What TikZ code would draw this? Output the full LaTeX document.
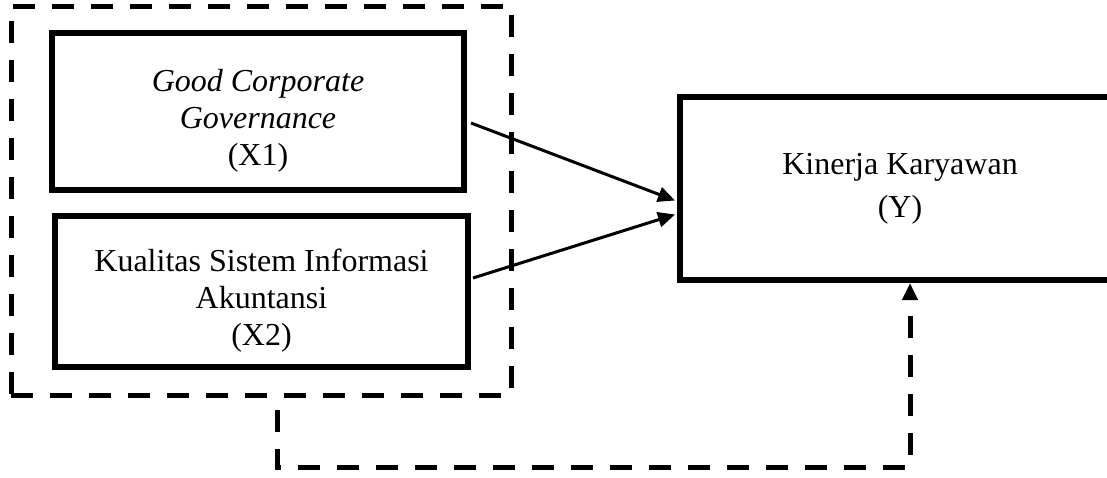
\documentclass[tikz,border=0pt]{standalone}
\usepackage{fontspec}
\setmainfont{Liberation Serif}
\usetikzlibrary{arrows.meta, positioning, calc}

\begin{document}
\begin{tikzpicture}[
  x=0.5pt, y=-0.5pt,
  font=\fontsize{16}{18.5}\selectfont,
  % Node styles
  varbox/.style  = {rectangle, draw=black, line width=3pt,
                    align=center, inner sep=2pt},
  groupbox/.style = {rectangle, draw=black, line width=2.5pt,
                    dash pattern=on 11pt off 8.5pt,
                    minimum width=250pt, minimum height=194.5pt, inner sep=0pt},
  % Arrow styles
  effect/.style  = {-{Triangle[length=8.5pt, width=7.5pt]}, line width=1.5pt},
  joint/.style   = {-{Triangle[length=8.5pt, width=7.5pt]}, line width=2.5pt,
                    dash pattern=on 11pt off 8.5pt}
]
\useasboundingbox (0,0) rectangle (1107,477);

% =========================== INDEPENDENT VARIABLES ===========================
\node[groupbox] (Grp) at (261, 200.5) {};
\node[varbox, minimum width=206pt, minimum height=78.5pt]
            (X1)  at (258, 111.5) {\rule{0pt}{20pt}\textit{Good Corporate}\\\textit{Governance}\\(X1)};
\node[varbox, minimum width=206.5pt, minimum height=75.5pt]
            (X2)  at (261.5, 291.5) {\rule{0pt}{20pt}Kualitas Sistem Informasi\\Akuntansi\\(X2)};

% =========================== DEPENDENT VARIABLE ===========================
% right edge lies past the page border
\node[varbox, minimum width=220pt, minimum height=91.5pt,
      font=\fontsize{16}{21.5}\selectfont]
            (Y)   at (900, 188.5) {Kinerja Karyawan\\(Y)};

% partial effects
\draw[effect] ($(X1.east)+(4,11.5)$)  -- ($(Y.west)+(-2,12)$);
\draw[effect] ($(X2.east)+(2,-13.5)$) -- ($(Y.west)+(-2,26)$);

% simultaneous effect
\coordinate (FbA) at (277, 410);
\coordinate (FbB) at (910, 467);
\draw[joint] (FbA) |- (FbB) -- (FbB |- Y.south);

\end{tikzpicture}
\end{document}
